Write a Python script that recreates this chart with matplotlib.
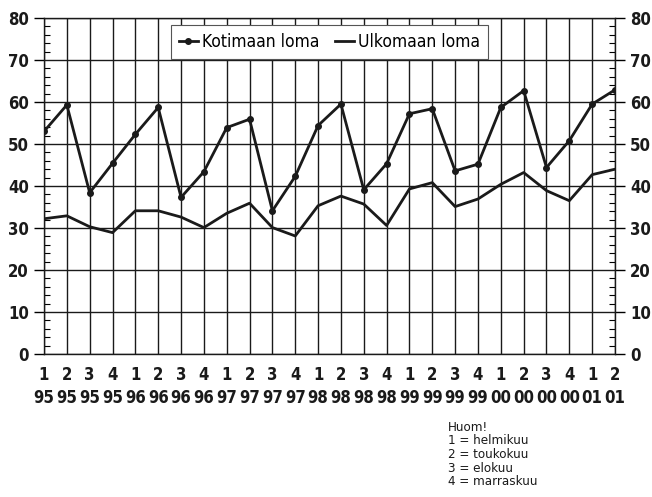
import matplotlib
matplotlib.use("Agg")
import matplotlib.pyplot as plt
from matplotlib import font_manager
from matplotlib.ticker import MultipleLocator

quarters = ["1", "2", "3", "4"] * 6 + ["1", "2"]
years = ["95"] * 4 + ["96"] * 4 + ["97"] * 4 + ["98"] * 4 + ["99"] * 4 + ["00"] * 4 + ["01"] * 2
kotimaan = [53.0, 59.3, 38.4, 45.4, 52.3, 58.7, 37.3, 43.4, 53.9, 55.9, 34.1, 42.3,
            54.4, 59.5, 39.1, 45.3, 57.2, 58.4, 43.6, 45.2, 58.7, 62.7, 44.4, 50.8,
            59.5, 62.9]
ulkomaan = [32.2, 32.9, 30.3, 28.9, 34.1, 34.1, 32.6, 30.1, 33.5, 35.9, 30.1, 28.1,
            35.3, 37.6, 35.7, 30.6, 39.3, 40.8, 35.1, 36.9, 40.4, 43.2, 38.9, 36.5,
            42.7, 44.0]
note_lines = ["Huom!", "1 = helmikuu", "2 = toukokuu", "3 = elokuu", "4 = marraskuu"]

# find a condensed / narrow font if available
cands = [f for f in font_manager.fontManager.ttflist
         if ("Condensed" in f.fname or "Narrow" in f.fname or f.stretch in ("condensed", "semi-condensed", 75, 87.5))
         and "Mono" not in f.fname and "Serif" not in f.fname]


def cond_prop(bold=False, size=12):
    if cands:
        fname = next((f.fname for f in cands
                      if (("Bold" in f.fname) == bold) and "Oblique" not in f.fname
                      and "Italic" not in f.fname), cands[0].fname)
        return font_manager.FontProperties(fname=fname, size=size)
    return font_manager.FontProperties(family="DejaVu Sans", size=size * 0.88,
                                       weight="bold" if bold else "normal")


plt.rcParams['font.family'] = ['DejaVu Sans']

fig = plt.figure(figsize=(6.52, 4.97), dpi=100)
ax = fig.add_axes([44 / 652, 1 - 354 / 497, 571 / 652, 336 / 497])

x = list(range(len(quarters)))
ax.plot(x, kotimaan, color="#1a1a1a", lw=2.0, marker="o", ms=4, label="Kotimaan loma", zorder=3)
ax.plot(x, ulkomaan, color="#1a1a1a", lw=2.0, label="Ulkomaan loma", zorder=3)

ax.set_xlim(0, len(quarters) - 1)
ax.set_ylim(0, 80)
ax.set_xticks(x)
ax.set_xticklabels([f"{q}\n{y}" for q, y in zip(quarters, years)], linespacing=1.35)
ax.yaxis.set_major_locator(MultipleLocator(10))
ax.yaxis.set_minor_locator(MultipleLocator(2))
ax.grid(True, which="major", color="#1a1a1a", lw=1.0)
ax.set_axisbelow(True)

for s in ax.spines.values():
    s.set_color("#1a1a1a")
    s.set_linewidth(1.0)

size = 12
ax.tick_params(axis="x", length=0, pad=9)
ax.tick_params(axis="y", which="major", length=7, width=1, direction="out",
               left=True, right=True, labelleft=True, labelright=True, pad=4)
ax.tick_params(axis="y", which="minor", length=4, width=0.8, direction="in",
               left=True, right=True)
tick_prop = cond_prop(True, size)
for lab in ax.get_xticklabels():
    lab.set_fontproperties(tick_prop)
    lab.set_color("#1a1a1a")
for t in ax.yaxis.get_major_ticks():
    t.label1.set_fontproperties(tick_prop)
    t.label2.set_fontproperties(tick_prop)
    t.label1.set_color("#1a1a1a")
    t.label2.set_color("#1a1a1a")

leg = ax.legend(ncol=2, loc="upper center", bbox_to_anchor=(0.5, 1 - 7 / 336),
                borderaxespad=0, fancybox=False, framealpha=1, edgecolor="#555555",
                prop=cond_prop(False, 12.5), handlelength=1.1, handletextpad=0.25,
                columnspacing=0.9, borderpad=0.45)
leg.get_frame().set_linewidth(0.8)

fig.text(448 / 652, 1 - 421 / 497, "\n".join(note_lines), ha="left", va="top",
         fontproperties=cond_prop(False, 9.5), linespacing=1.05, color="#1a1a1a")

fig.savefig("out.png", dpi=100)
